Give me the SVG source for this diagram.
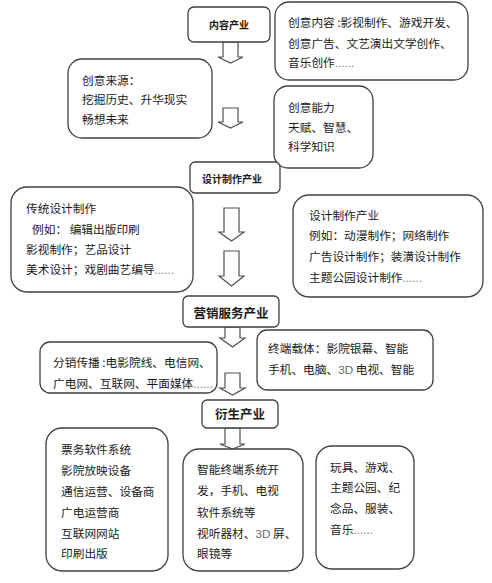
<svg xmlns="http://www.w3.org/2000/svg" width="492" height="583" viewBox="0 0 492 583">
<style>
.box{fill:#fff;stroke:#404040;stroke-width:1.3}
.arr{fill:#fff;stroke:#505050;stroke-width:1.2;stroke-linejoin:miter}
text{font-family:"Noto Sans CJK SC","Noto Sans",sans-serif;fill:#1a1a1a;font-size:11.7px}
.hd{font-weight:bold;text-anchor:middle;font-size:10px}
.hd2{font-weight:bold;text-anchor:middle;font-size:12.5px}
.dots{fill:#9a88aa}
.lt{fill:#666;font-family:"Liberation Sans",sans-serif}
</style>
<rect width="492" height="583" fill="#fff"/>
<g id="connectors">
<path class="arr" d="M223,42 V57 H218 L230.5,63 L243,57 H238 V42 Z"/>
<path class="arr" d="M223,108 V122 H218 L230.5,128 L243,122 H238 V108 Z"/>
<path class="arr" d="M224,208 V232 H219 L231.5,241 L244,232 H239 V208 Z"/>
<path class="arr" d="M224,251 V276 H219 L231.5,286 L244,276 H239 V251 Z"/>
<path class="arr" d="M225,327 V338 H220 L232.5,347 L245,338 H240 V327 Z"/>
<path class="arr" d="M225,373 V388 H220 L232.5,395 L245,388 H240 V373 Z"/>
<path class="arr" d="M225,428 V444 H220 L232.5,449 L245,444 H240 V428 Z"/>
</g>
<g id="n-neirong">
<rect class="box" x="188" y="7" width="82" height="35" rx="6"/>
<text class="hd" x="229" y="28.5">内容产业</text>
</g>
<g id="n-chuangyi-neirong">
<rect class="box" x="275" y="2" width="193" height="78" rx="14"/>
<text x="288" y="26.5">创意内容 :影视制作、游戏开发、</text>
<text x="288" y="47.5">创意广告、文艺演出文学创作、</text>
<text x="288" y="66.5">音乐创作<tspan class="dots">......</tspan></text>
</g>
<g id="n-chuangyi-laiyuan">
<rect class="box" x="68" y="59" width="144" height="79" rx="14"/>
<text x="82" y="84.5">创意来源：</text>
<text x="82" y="103.5">挖掘历史、升华现实</text>
<text x="82" y="123.5">畅想未来</text>
</g>
<g id="n-chuangyi-nengli">
<rect class="box" x="274" y="86" width="99" height="82" rx="14"/>
<text x="288" y="111.5">创意能力</text>
<text x="288" y="131.5">天赋、智慧、</text>
<text x="288" y="150.5">科学知识</text>
</g>
<g id="n-sheji">
<rect class="box" x="190" y="162" width="90" height="31" rx="5"/>
<text class="hd" x="232" y="182.5">设计制作产业</text>
</g>
<g id="n-chuantong">
<rect class="box" x="11" y="187" width="182" height="105" rx="16"/>
<text x="26" y="212.5">传统设计制作</text>
<text x="32" y="233.5">例如：  编辑出版印刷</text>
<text x="26" y="253.5">影视制作；艺品设计</text>
<text x="26" y="273.5">美术设计；戏剧曲艺编导<tspan class="dots">......</tspan></text>
</g>
<g id="n-sheji-right">
<rect class="box" x="293" y="195" width="190" height="102" rx="16"/>
<text x="309" y="219.5">设计制作产业</text>
<text x="309" y="239.5">例如：动漫制作；网络制作</text>
<text x="309" y="260.5">广告设计制作；装潢设计制作</text>
<text x="309" y="281.5">主题公园设计制作<tspan class="dots">......</tspan></text>
</g>
<g id="n-yingxiao">
<rect class="box" x="183" y="296" width="96" height="31" rx="5"/>
<text class="hd2" x="231" y="317.5">营销服务产业</text>
</g>
<g id="n-fenxiao">
<rect class="box" x="40" y="342" width="177" height="51" rx="10"/>
<text x="53" y="366.5">分销传播 :电影院线、电信网、</text>
<text x="53" y="387.5">广电网、互联网、平面媒体<tspan class="dots">......</tspan></text>
</g>
<g id="n-zhongduan">
<rect class="box" x="257" y="330" width="176" height="60" rx="10"/>
<text x="268" y="352.5">终端载体：影院银幕、智能</text>
<text x="268" y="373.5">手机、电脑、<tspan class="lt">3D</tspan> 电视、智能</text>
</g>
<g id="n-yansheng">
<rect class="box" x="202" y="400" width="76" height="28" rx="5"/>
<text class="hd2" x="240" y="419">衍生产业</text>
</g>
<g id="n-piaowu">
<rect class="box" x="46" y="428" width="122" height="143" rx="16"/>
<text x="61" y="453.5">票务软件系统</text>
<text x="61" y="474.5">影院放映设备</text>
<text x="61" y="495.5">通信运营、设备商</text>
<text x="61" y="516.5">广电运营商</text>
<text x="61" y="537.5">互联网网站</text>
<text x="61" y="557.5">印刷出版</text>
</g>
<g id="n-zhineng">
<rect class="box" x="183" y="449" width="120" height="122" rx="16"/>
<text x="197" y="473.5">智能终端系统开</text>
<text x="197" y="494.5">发，手机、电视</text>
<text x="197" y="516.5">软件系统等</text>
<text x="197" y="537.5">视听器材、<tspan class="lt">3D</tspan> 屏、</text>
<text x="197" y="557.5">眼镜等</text>
</g>
<g id="n-wanju">
<rect class="box" x="316" y="446" width="98" height="123" rx="16"/>
<text x="330" y="471.5">玩具、游戏、</text>
<text x="330" y="491.5">主题公园、纪</text>
<text x="330" y="512.5">念品、服装、</text>
<text x="330" y="533.5">音乐<tspan class="dots">......</tspan></text>
</g>
</svg>
